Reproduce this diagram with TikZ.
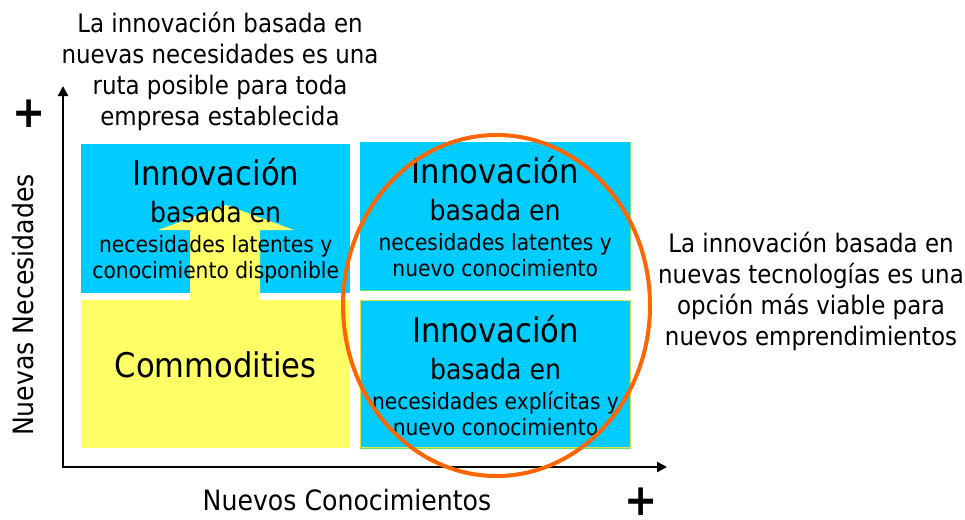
\documentclass[tikz,border=0pt]{standalone}
\usepackage{fontspec}
\setmainfont[FakeStretch=0.9]{DejaVu Sans}
\usetikzlibrary{arrows.meta}
\definecolor{celeste}{RGB}{0,204,255}
\definecolor{amarillo}{RGB}{255,255,102}
\definecolor{naranja}{RGB}{255,102,0}
\definecolor{verde}{RGB}{110,225,110}
\definecolor{borde}{RGB}{225,225,70}

\newcommand{\innov}[2]{\spaceskip=0pt \xspaceskip=0pt
  \fontsize{34}{34}\selectfont \mbox{Innovación}\par
  \fontsize{28}{37}\selectfont \mbox{basada en}\par
  \fontsize{22.5}{30}\selectfont \mbox{#1}\par
  \fontsize{22.5}{26}\selectfont \mbox{#2}\par}

\begin{document}
\begin{tikzpicture}[x=1pt,y=-1pt,
    caja/.style={minimum width=269pt, minimum height=149pt, inner sep=0pt, anchor=north west},
    texto/.style={align=center, inner sep=0pt, text width=268pt},
    nota/.style={align=center, inner sep=0pt, anchor=north, font=\fontsize{25.5}{31}\selectfont},
    eje/.style={line width=2.5pt, line join=miter, {Triangle[length=10pt,width=10pt]}-{Triangle[length=10pt,width=10pt]}},
    mas/.style={inner sep=0pt, font=\fontsize{44}{44}\selectfont\bfseries}]
  \useasboundingbox (0,0) rectangle (965,519);

  % cuadrantes
  \node[caja, fill=celeste] (nl) at (81,144) {};
  \node[caja, fill=amarillo, minimum height=148pt] (co) at (81,300) {};
  \node[caja, fill=celeste, minimum width=270pt, minimum height=148pt] (nn) at (360,142) {};
  \node[caja, fill=celeste, draw=borde, line width=1pt, minimum width=270pt, minimum height=147pt] (en) at (360,300) {};
  \draw[verde, line width=1pt] (nn.north east) -- (nn.south east) -- (nn.south west);
  \draw[verde, line width=1pt] (en.south west) -- (en.south east);

  % flecha de commodities hacia arriba
  \fill[amarillo] (190,300) -- (190,230) -- (158,230) -- (226,205) -- (294,230)
    -- (260,230) -- (260,300) -- cycle;

  \node[texto, yshift=-2pt] (tnl) at (nl.center) {\innov{necesidades latentes y}{conocimiento disponible}};
  \node[texto, yshift=9pt, font=\fontsize{34}{34}\selectfont] (tco) at (co.center) {Commodities};
  \node[texto] (tnn) at (nn.center) {\innov{necesidades latentes y}{nuevo conocimiento}};
  \node[texto, yshift=-1.5pt] (ten) at (en.center) {\innov{necesidades explícitas y}{nuevo conocimiento}};

  % ejes
  \coordinate (o) at (63,467);
  \coordinate (ytip) at (63,86);
  \coordinate (xtip) at (667,467);
  \draw[eje] (ytip) -- (o) -- (xtip);
  \node[rotate=90, inner sep=0pt, font=\fontsize{28}{28}\selectfont] (ylab) at (23,305) {Nuevas Necesidades};
  \node[inner sep=0pt, font=\fontsize{28}{28}\selectfont] (xlab) at (347,500) {Nuevos Conocimientos};
  \node[mas] (ymas) at (29,114) {+};
  \node[mas] (xmas) at (641,502) {+};

  \draw[naranja, line width=4pt] (496.5,305.5) ellipse [x radius=153.5, y radius=170.5];

  % notas
  \node[nota] (nota1) at (220,12) {La innovación basada en\\ nuevas necesidades es una\\ ruta posible para toda\\ empresa establecida};
  \node[nota] (nota2) at (811,231.5) {La innovación basada en\\ nuevas tecnologías es una\\ opción más viable para\\ nuevos emprendimientos};
\end{tikzpicture}
\end{document}
